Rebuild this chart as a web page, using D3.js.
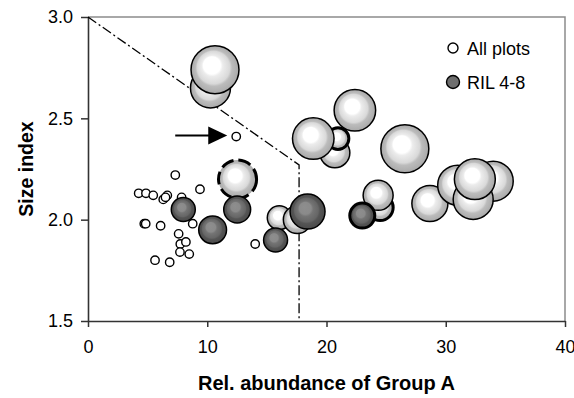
<!DOCTYPE html>
<html>
<head>
<meta charset="utf-8">
<script src="https://cdn.jsdelivr.net/npm/d3@7/dist/d3.min.js"></script>
<style>
  html, body { margin: 0; padding: 0; background: #fff; }
  svg { display: block; font-family: "Liberation Sans", Arial, sans-serif; }
</style>
</head>
<body>
<svg id="chart" width="574" height="398"></svg>
<script>
// Small plots: relative abundance of Group A vs size index
const allPlotsX = [4.25, 4.86, 5.47, 6.31, 6.65, 6.5, 7.85, 9.39, 7.32, 4.72, 4.84, 6.09, 8.78, 7.60, 7.74, 8.21, 7.71, 8.49, 5.62, 6.85, 14.02, 12.43];
const allPlotsY = [2.13, 2.13, 2.12, 2.10, 2.12, 2.11, 2.11, 2.15, 2.22, 1.98, 1.98, 1.97, 1.98, 1.93, 1.88, 1.89, 1.84, 1.83, 1.80, 1.79, 1.88, 2.41];

// Larger plots, bubble size = plot size (drawn back to front)
const bubbleX    = [10.27, 10.65, 12.54, 20.7, 20.96, 18.89, 22.38, 26.57, 24.5, 24.33, 28.67, 33.98, 31.0, 32.3, 32.44, 16.04, 17.55];
const bubbleY    = [2.65, 2.74, 2.20, 2.33, 2.40, 2.40, 2.54, 2.35, 2.06, 2.12, 2.08, 2.19, 2.17, 2.10, 2.20, 2.01, 2.00];
const bubbleSize = [64, 92, 58, 36, 19, 69, 69, 92, 27, 36, 52, 64, 64, 64, 67, 23, 31];
const bubbleMark = ["", "", "dashed", "", "bold", "", "", "", "bold", "", "", "", "", "", "", "", ""];

// RIL 4-8 plots
const rilX    = [7.99, 10.45, 12.51, 15.73, 18.41, 23.0];
const rilY    = [2.05, 1.95, 2.05, 1.90, 2.04, 2.02];
const rilSize = [23, 31, 29, 23, 49, 25];
const rilMark = ["", "", "", "", "", "bold"];

// Threshold boundary
const boundaryX = [0, 17.7, 17.7];
const boundaryY = [3.0, 2.27, 1.5];

const xTicks = [0, 10, 20, 30, 40];
const yTicks = [1.5, 2.0, 2.5, 3.0];
const legendLabels = ["All plots", "RIL 4-8"];
const arrowTarget = 21; // index in allPlots

const svg = d3.select("#chart");
const plot = { left: 88, right: 565, top: 17, bottom: 321 };

const x = d3.scaleLinear().domain([0, 40]).range([plot.left, plot.right]);
const y = d3.scaleLinear().domain([1.5, 3.0]).range([plot.bottom, plot.top]);
const r = d3.scaleSqrt().domain([0, 100]).range([0, 25]);

const defs = svg.append("defs");
function sphere(id, stops) {
  const g = defs.append("radialGradient").attr("id", id)
    .attr("cx", "50%").attr("cy", "50%").attr("r", "50%")
    .attr("fx", "40%").attr("fy", "36%");
  stops.forEach(([o, c]) => g.append("stop").attr("offset", o).attr("stop-color", c));
}
sphere("lightBall", [[0, "#ffffff"], [0.36, "#ffffff"], [0.44, "#ececec"], [0.68, "#d9d9d9"], [0.76, "#bcbcbc"], [1, "#a9a9a9"]]);
sphere("darkBall", [[0, "#8e8e8e"], [0.34, "#8a8a8a"], [0.44, "#747474"], [0.68, "#666666"], [0.76, "#555555"], [1, "#4a4a4a"]]);

// Frame: light top/right border
svg.append("path")
  .attr("d", `M${plot.left},${plot.top}H${plot.right}V${plot.bottom}`)
  .attr("fill", "none").attr("stroke", "#8c8c8c").attr("stroke-width", 1.5);

// Axes
const xAxis = svg.append("g").attr("transform", `translate(0,${plot.bottom})`)
  .call(d3.axisBottom(x).tickValues(xTicks).tickSize(6).tickSizeOuter(0).tickPadding(13));
const yAxis = svg.append("g").attr("transform", `translate(${plot.left},0)`)
  .call(d3.axisLeft(y).tickValues(yTicks).tickFormat(d3.format(".1f")).tickSize(7).tickSizeOuter(0).tickPadding(8));
[xAxis, yAxis].forEach(a => {
  a.select(".domain").attr("stroke", "#333").attr("stroke-width", 1.6);
  a.selectAll(".tick line").attr("stroke", "#333").attr("stroke-width", 1.5);
  a.selectAll(".tick text").attr("fill", "#000").style("font-size", "18px");
});

// Threshold line
svg.append("path")
  .datum(boundaryX.map((d, i) => [d, boundaryY[i]]))
  .attr("d", d3.line().x(d => x(d[0])).y(d => y(d[1])))
  .attr("fill", "none").attr("stroke", "#000").attr("stroke-width", 1.3)
  .attr("stroke-dasharray", "10,3,2,3");

// Small open circles
svg.append("g").selectAll("circle")
  .data(allPlotsX.map((d, i) => [d, allPlotsY[i]]))
  .join("circle")
  .attr("cx", d => x(d[0])).attr("cy", d => y(d[1])).attr("r", 4.2)
  .attr("fill", "#fff").attr("stroke", "#000").attr("stroke-width", 1.4);

function bubbles(xs, ys, sizes, marks, fill) {
  svg.append("g").selectAll("circle")
    .data(xs.map((d, i) => ({ x: d, y: ys[i], s: sizes[i], m: marks[i] })))
    .join("circle")
    .attr("cx", d => x(d.x)).attr("cy", d => y(d.y)).attr("r", d => r(d.s))
    .attr("fill", fill).attr("stroke", "#000")
    .attr("stroke-width", d => d.m === "" ? 1.5 : 3)
    .attr("stroke-dasharray", d => d.m === "dashed" ? "13,5" : null);
}
bubbles(bubbleX, bubbleY, bubbleSize, bubbleMark, "url(#lightBall)");
bubbles(rilX, rilY, rilSize, rilMark, "url(#darkBall)");

// Arrow pointing at the highlighted plot
const ax = x(allPlotsX[arrowTarget]), ay = y(allPlotsY[arrowTarget]);
svg.append("line")
  .attr("x1", ax - 61).attr("x2", ax - 26).attr("y1", ay - 1).attr("y2", ay - 1)
  .attr("stroke", "#000").attr("stroke-width", 2);
svg.append("path")
  .attr("d", `M${ax - 28},${ay - 10}L${ax - 9},${ay - 1}L${ax - 28},${ay + 8}Z`)
  .attr("fill", "#000");

// Legend
const leg = svg.append("g").attr("transform", "translate(453,48)");
leg.append("circle").attr("r", 5).attr("fill", "#fff").attr("stroke", "#000").attr("stroke-width", 1.4);
leg.append("circle").attr("cy", 34).attr("r", 6.5).attr("fill", "#6e6e6e").attr("stroke", "#000").attr("stroke-width", 1.4);
leg.selectAll("text").data(legendLabels).join("text")
  .attr("x", 14).attr("y", (d, i) => i * 34 + 6.5)
  .style("font-size", "18px").text(d => d);

// Axis titles
svg.append("text")
  .attr("x", (plot.left + plot.right) / 2).attr("y", 390)
  .attr("text-anchor", "middle").style("font-size", "20px").style("font-weight", "bold")
  .text("Rel. abundance of Group A");
svg.append("text")
  .attr("transform", `translate(33,${(plot.top + plot.bottom) / 2}) rotate(-90)`)
  .attr("text-anchor", "middle").style("font-size", "19.5px").style("font-weight", "bold")
  .text("Size index");
</script>
</body>
</html>
